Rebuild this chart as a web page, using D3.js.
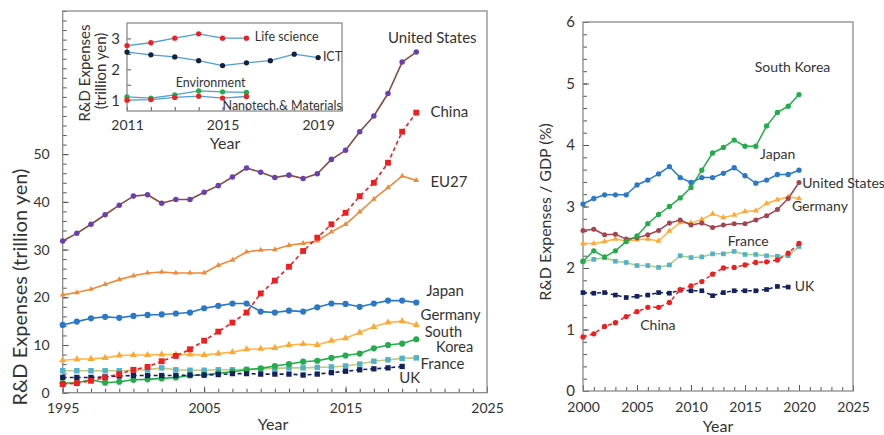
<!DOCTYPE html>
<html>
<head>
<meta charset="utf-8">
<script src="https://cdn.jsdelivr.net/npm/d3@7/dist/d3.min.js"></script>
<style>
  body { margin: 0; background: #fff; }
  svg text { font-family: Lato, "Open Sans", sans-serif; fill: #333; }
</style>
</head>
<body>
<svg id="chart" width="884" height="435"></svg>
<script>
// ---- R&D expenses, trillion yen (1995-2020) ----
const yearsExp = [1995,1996,1997,1998,1999,2000,2001,2002,2003,2004,2005,2006,2007,2008,2009,2010,2011,2012,2013,2014,2015,2016,2017,2018,2019,2020];
const usExp      = [31.8,33.4,35.3,37.3,39.3,41.2,41.5,39.7,40.5,40.5,42.0,43.4,45.2,47.1,46.2,45.1,45.6,44.9,45.9,48.9,50.8,54.7,58.0,62.7,69.3,71.4];
const chinaExp   = [1.8,2.0,2.5,3.2,3.9,4.8,5.4,6.6,7.7,9.1,10.9,12.8,14.7,16.8,20.8,23.5,26.4,29.7,32.5,35.3,37.7,41.2,44.0,48.2,54.7,58.7];
const eu27Exp    = [20.5,21.0,21.7,22.7,23.7,24.5,25.1,25.3,25.1,25.1,25.1,26.7,27.8,29.5,29.9,30.0,30.9,31.3,31.8,33.7,35.3,37.9,40.6,43.0,45.4,44.5];
const japanExp   = [14.2,14.9,15.6,15.9,15.7,16.1,16.3,16.4,16.6,16.8,17.7,18.2,18.7,18.7,17.0,16.8,17.2,17.0,17.9,18.7,18.6,18.0,18.7,19.3,19.3,18.9];
const germanyExp = [6.8,7.0,7.1,7.3,7.8,7.9,7.9,8.0,8.0,8.0,7.9,8.2,8.5,9.1,9.2,9.4,10.0,10.2,10.0,10.9,11.4,12.6,13.8,14.7,15.0,14.2];
const koreaExp   = [2.0,2.1,2.7,2.1,2.3,2.7,2.8,3.0,3.2,3.6,3.7,4.1,4.4,4.8,5.1,5.6,6.0,6.5,6.7,7.3,7.8,8.2,9.3,10.0,10.3,11.2];
const franceExp  = [4.6,4.6,4.6,4.6,4.6,4.7,4.8,5.2,4.8,4.7,4.7,4.8,4.8,4.9,5.0,5.1,5.2,5.2,5.3,5.4,5.6,6.0,6.6,6.9,7.2,7.3];
const ukExp      = [3.2,3.2,3.2,3.3,3.5,3.6,3.6,3.6,3.6,3.7,3.7,3.8,4.0,4.0,3.9,3.9,3.9,3.7,3.9,4.2,4.5,4.8,5.0,5.2,5.5,null];
const expTickLabels  = [0,10,20,30,40,50];
const expYearTicks   = [1995,2005,2015,2025];

// ---- Japanese R&D by field, trillion yen (2011-2019) ----
const yearsField = [2011,2012,2013,2014,2015,2016,2017,2018,2019];
const lifeScience = [2.77,2.86,3.01,3.15,3.01,3.01,null,null,null];
const ict         = [2.56,2.47,2.40,2.28,2.12,2.21,2.28,2.49,2.38];
const environment = [1.11,1.07,1.17,1.30,1.27,1.25,null,null,null];
const nanotech    = [1.00,1.02,1.09,1.13,1.07,1.12,null,null,null];
const fieldTickLabels = [1,2,3];
const fieldYearTicks  = [2011,2015,2019];

// ---- R&D expenses / GDP, % (2000-2020) ----
const yearsGdp = [2000,2001,2002,2003,2004,2005,2006,2007,2008,2009,2010,2011,2012,2013,2014,2015,2016,2017,2018,2019,2020];
const koreaGdp   = [2.11,2.28,2.18,2.28,2.43,2.52,2.72,2.87,3.00,3.14,3.31,3.59,3.87,3.96,4.08,3.98,3.98,4.31,4.53,4.63,4.82];
const japanGdp   = [3.04,3.13,3.19,3.19,3.19,3.35,3.43,3.53,3.65,3.47,3.39,3.47,3.47,3.54,3.63,3.50,3.38,3.43,3.52,3.52,3.59];
const usGdp      = [2.61,2.63,2.54,2.55,2.47,2.49,2.54,2.61,2.73,2.78,2.70,2.73,2.66,2.70,2.72,2.72,2.78,2.85,2.95,3.13,3.39];
const germanyGdp = [2.40,2.40,2.43,2.47,2.44,2.46,2.47,2.44,2.60,2.74,2.73,2.79,2.88,2.82,2.86,2.92,2.93,3.05,3.11,3.16,3.13];
const franceGdp  = [2.10,2.14,2.17,2.11,2.09,2.04,2.04,2.01,2.05,2.20,2.17,2.18,2.23,2.23,2.27,2.22,2.22,2.20,2.19,2.20,2.35];
const chinaGdp   = [0.88,0.93,1.05,1.11,1.21,1.29,1.36,1.36,1.44,1.65,1.71,1.78,1.90,2.00,2.01,2.05,2.09,2.10,2.13,2.24,2.40];
const ukGdp      = [1.60,1.59,1.60,1.56,1.52,1.54,1.56,1.60,1.59,1.64,1.63,1.63,1.55,1.60,1.63,1.63,1.63,1.65,1.70,1.69,null];
const gdpTickLabels = [0,1,2,3,4,5,6];
const gdpYearTicks  = [2000,2005,2010,2015,2020,2025];

const svg = d3.select("#chart");
const frameColor = "#8a8a8a";
const axisColor = "#555";
const intFmt = d3.format("d");

function symbolPath(shape, size) {
  const t = { circle: d3.symbolCircle, square: d3.symbolSquare, triangle: d3.symbolTriangle }[shape];
  return d3.symbol().type(t).size(size)();
}

function drawSeries(g, x, y, years, values, st) {
  const pts = years.map((yr, i) => ({ yr, v: values[i] })).filter(d => d.v != null);
  const line = d3.line().x(d => x(d.yr)).y(d => y(d.v));
  g.append("path")
    .datum(pts)
    .attr("d", line)
    .attr("fill", "none")
    .attr("stroke", st.line)
    .attr("stroke-width", st.width || 1.6)
    .attr("stroke-dasharray", st.dash || null)
    .attr("stroke-linejoin", "round");
  g.selectAll(null)
    .data(pts)
    .enter()
    .append("path")
    .attr("d", symbolPath(st.shape, st.size))
    .attr("transform", d => `translate(${x(d.yr)},${y(d.v)})`)
    .attr("fill", st.marker);
}

function drawFrame(g, x, y) {
  const [x0, x1] = x.range();
  const [y0, y1] = y.range();
  g.append("rect")
    .attr("x", x0).attr("y", y1)
    .attr("width", x1 - x0).attr("height", y0 - y1)
    .attr("fill", "none")
    .attr("stroke", frameColor)
    .attr("stroke-width", 1.3);
}

function styleAxis(sel) {
  sel.select(".domain").remove();
  sel.selectAll(".tick line").attr("stroke", axisColor).attr("stroke-width", 1);
}

function addLabel(g, x, y, yr, v, text, size, anchor) {
  g.append("text")
    .attr("x", x(yr)).attr("y", y(v))
    .attr("dy", "0.35em")
    .attr("text-anchor", anchor || "start")
    .attr("font-size", size)
    .text(text);
}

// ================= Left panel: R&D expenses =================
{
  const x = d3.scaleLinear().domain([1995, 2025]).range([62.7, 487]);
  const y = d3.scaleLinear().domain([0, 80]).range([392.7, 11]);
  const g = svg.append("g");

  g.append("g").attr("transform", `translate(0,${y(0)})`)
    .call(d3.axisBottom(x).ticks(30).tickSize(-4).tickFormat(""))
    .call(styleAxis);
  g.append("g").attr("transform", `translate(0,${y(0)})`)
    .call(d3.axisBottom(x).tickValues(expYearTicks).tickSize(-6).tickPadding(10).tickFormat(intFmt))
    .call(styleAxis)
    .call(a => a.selectAll("text").attr("font-size", 14).attr("fill", "#333"));
  g.append("g").attr("transform", `translate(${x(1995)},0)`)
    .call(d3.axisLeft(y).ticks(40).tickSize(-4).tickFormat(""))
    .call(styleAxis);
  g.append("g").attr("transform", `translate(${x(1995)},0)`)
    .call(d3.axisLeft(y).tickValues(expTickLabels).tickSize(-6).tickPadding(13).tickFormat(intFmt))
    .call(styleAxis)
    .call(a => a.selectAll("text").attr("font-size", 14).attr("fill", "#333"));
  drawFrame(g, x, y);

  const series = [
    { v: eu27Exp,    line: "#ef8a3a", marker: "#ef8a3a", shape: "triangle", size: 14 },
    { v: japanExp,   line: "#2a78c8", marker: "#2a78c8", shape: "circle", size: 30 },
    { v: germanyExp, line: "#ffb347", marker: "#ffa733", shape: "triangle", size: 22 },
    { v: franceExp,  line: "#c9c67a", marker: "#4fb3cf", shape: "square", size: 30 },
    { v: koreaExp,   line: "#22ad4a", marker: "#22ad4a", shape: "circle", size: 30 },
    { v: ukExp,      line: "#12225f", marker: "#12225f", shape: "square", size: 28, dash: "4,3" },
    { v: usExp,      line: "#8a4a3c", marker: "#6a3fb2", shape: "circle", size: 24 },
    { v: chinaExp,   line: "#f01e1e", marker: "#f01e1e", shape: "square", size: 34, dash: "4,3" }
  ];
  series.forEach(s => drawSeries(g, x, y, yearsExp, s.v, s));

  addLabel(g, x, y, 2018.0, 74.3, "United States", 15);
  addLabel(g, x, y, 2021.0, 58.8, "China", 15);
  addLabel(g, x, y, 2021.0, 44.3, "EU27", 15);
  addLabel(g, x, y, 2020.7, 21.3, "Japan", 15);
  addLabel(g, x, y, 2020.3, 16.3, "Germany", 15);
  addLabel(g, x, y, 2020.6, 12.8, "South", 14.5);
  addLabel(g, x, y, 2021.4, 9.5, "Korea", 14.5);
  addLabel(g, x, y, 2020.3, 6.0, "France", 15);
  addLabel(g, x, y, 2018.8, 3.1, "UK", 15);

  g.append("text").attr("x", 273).attr("y", 424).attr("dy", "0.35em")
    .attr("text-anchor", "middle").attr("font-size", 16).text("Year");
  g.append("text").attr("transform", "translate(20,287) rotate(-90)")
    .attr("dy", "0.35em").attr("text-anchor", "middle").attr("font-size", 20)
    .text("R&D Expenses (trillion yen)");

  // ---- inset: Japanese R&D by field ----
  const xi = d3.scaleLinear().domain([2011, 2020]).range([127, 342]);
  const yi = d3.scaleLinear().domain([0.65, 3.5]).range([111, 23]);
  const gi = svg.append("g");
  gi.append("g").attr("transform", `translate(0,${yi.range()[0]})`)
    .call(d3.axisBottom(xi).ticks(9).tickSize(-4).tickFormat(""))
    .call(styleAxis);
  gi.append("g").attr("transform", `translate(0,${yi.range()[0]})`)
    .call(d3.axisBottom(xi).tickValues(fieldYearTicks).tickSize(0).tickPadding(9).tickFormat(intFmt))
    .call(styleAxis)
    .call(a => a.selectAll("text").attr("font-size", 14).attr("fill", "#333"));
  gi.append("g").attr("transform", `translate(${xi.range()[0]},0)`)
    .call(d3.axisLeft(yi).tickValues([1, 1.5, 2, 2.5, 3]).tickSize(-4).tickFormat(""))
    .call(styleAxis);
  gi.append("g").attr("transform", `translate(${xi.range()[0]},0)`)
    .call(d3.axisLeft(yi).tickValues(fieldTickLabels).tickSize(0).tickPadding(7).tickFormat(intFmt))
    .call(styleAxis)
    .call(a => a.selectAll("text").attr("font-size", 15).attr("fill", "#333"));
  drawFrame(gi, xi, yi);

  const fields = [
    { v: environment, line: "#4a9fd8", marker: "#22ad4a", shape: "circle", size: 22 },
    { v: nanotech,    line: "#4a9fd8", marker: "#f01e1e", shape: "circle", size: 22 },
    { v: ict,         line: "#4a9fd8", marker: "#14213d", shape: "circle", size: 22 },
    { v: lifeScience, line: "#4a9fd8", marker: "#f01e1e", shape: "circle", size: 22 }
  ];
  fields.forEach(s => drawSeries(gi, xi, yi, yearsField, s.v, Object.assign({ width: 1.3 }, s)));

  addLabel(gi, xi, yi, 2016.35, 3.05, "Life science", 12.5);
  addLabel(gi, xi, yi, 2019.2, 2.40, "ICT", 12.5);
  addLabel(gi, xi, yi, 2014.5, 1.58, "Environment", 12.5, "middle");
  addLabel(gi, xi, yi, 2015.0, 0.84, "Nanotech.& Materials", 12.5);

  gi.append("text").attr("x", 225).attr("y", 143).attr("dy", "0.35em")
    .attr("text-anchor", "middle").attr("font-size", 16).text("Year");
  gi.append("text").attr("transform", "translate(85,73) rotate(-90)")
    .attr("dy", "0.35em").attr("text-anchor", "middle").attr("font-size", 15)
    .text("R&D Expenses");
  gi.append("text").attr("transform", "translate(101,71) rotate(-90)")
    .attr("dy", "0.35em").attr("text-anchor", "middle").attr("font-size", 15)
    .text("(trillion yen)");
}

// ================= Right panel: R&D / GDP =================
{
  const x = d3.scaleLinear().domain([2000, 2025]).range([583, 853]);
  const y = d3.scaleLinear().domain([0, 6]).range([391, 22]);
  const g = svg.append("g");

  g.append("g").attr("transform", `translate(0,${y(0)})`)
    .call(d3.axisBottom(x).ticks(25).tickSize(-4).tickFormat(""))
    .call(styleAxis);
  g.append("g").attr("transform", `translate(0,${y(0)})`)
    .call(d3.axisBottom(x).tickValues(gdpYearTicks).tickSize(-6).tickPadding(11).tickFormat(intFmt))
    .call(styleAxis)
    .call(a => a.selectAll("text").attr("font-size", 14).attr("fill", "#333"));
  g.append("g").attr("transform", `translate(${x(2000)},0)`)
    .call(d3.axisLeft(y).ticks(30).tickSize(-4).tickFormat(""))
    .call(styleAxis);
  g.append("g").attr("transform", `translate(${x(2000)},0)`)
    .call(d3.axisLeft(y).tickValues(gdpTickLabels).tickSize(-6).tickPadding(8).tickFormat(intFmt))
    .call(styleAxis)
    .call(a => a.selectAll("text").attr("font-size", 15).attr("fill", "#333"));
  drawFrame(g, x, y);

  const series = [
    { v: franceGdp,  line: "#a8cf7c", marker: "#4fb3cf", shape: "square", size: 22 },
    { v: germanyGdp, line: "#ffb347", marker: "#ffa733", shape: "triangle", size: 16 },
    { v: usGdp,      line: "#a3444e", marker: "#a3444e", shape: "circle", size: 20 },
    { v: japanGdp,   line: "#2a78c8", marker: "#2a78c8", shape: "circle", size: 22 },
    { v: koreaGdp,   line: "#22ad4a", marker: "#22ad4a", shape: "circle", size: 22 },
    { v: ukGdp,      line: "#12225f", marker: "#12225f", shape: "square", size: 22, dash: "4,3" },
    { v: chinaGdp,   line: "#f01e1e", marker: "#f01e1e", shape: "circle", size: 22, dash: "4,3" }
  ];
  series.forEach(s => drawSeries(g, x, y, yearsGdp, s.v, Object.assign({ width: 1.5 }, s)));

  addLabel(g, x, y, 2015.9, 5.27, "South Korea", 14);
  addLabel(g, x, y, 2016.4, 3.85, "Japan", 14);
  addLabel(g, x, y, 2020.3, 3.38, "United States", 14);
  addLabel(g, x, y, 2019.35, 3.01, "Germany", 14);
  addLabel(g, x, y, 2013.4, 2.44, "France", 14);
  addLabel(g, x, y, 2019.6, 1.71, "UK", 14);
  addLabel(g, x, y, 2005.3, 1.07, "China", 14);

  g.append("text").attr("x", 718).attr("y", 426).attr("dy", "0.35em")
    .attr("text-anchor", "middle").attr("font-size", 16).text("Year");
  g.append("text").attr("transform", "translate(545,212) rotate(-90)")
    .attr("dy", "0.35em").attr("text-anchor", "middle").attr("font-size", 16)
    .text("R&D Expenses / GDP (%)");
}
</script>
</body>
</html>
